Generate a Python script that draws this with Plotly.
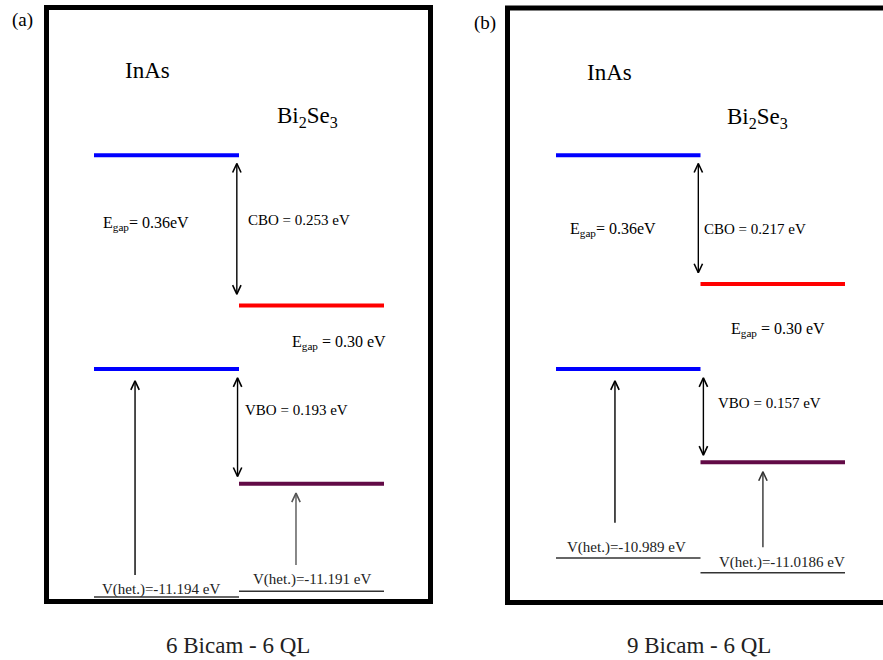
import plotly.graph_objects as go

# ---------------- data (eV, relative to InAs valence band) ----------------
panels = ["a", "b"]
captions = ["6 Bicam - 6 QL", "9 Bicam - 6 QL"]
inas_gap = [0.36, 0.36]
bise_gap = [0.30, 0.30]
cbo = [0.253, 0.217]
vbo = [0.193, 0.157]
vhet_inas = ["-11.194", "-10.989"]
vhet_bise = ["-11.191", "-11.0186"]
cbo_labels = ["CBO = 0.253 eV", "CBO = 0.217 eV"]
vbo_labels = ["VBO = 0.193 eV", "VBO = 0.157 eV"]
egap1_labels = ["E<sub>gap</sub>= 0.36eV", "E<sub>gap</sub>= 0.36eV"]
egap2_labels = ["E<sub>gap</sub> = 0.30 eV", "E<sub>gap</sub> = 0.30 eV"]

# schematic (not to scale) placement of V(het.) reference lines, eV below InAs VB
vhet_line_inas = [-0.384, -0.318]
vhet_line_bise = [-0.374, -0.343]

FONT = "Liberation Serif, Times New Roman, DejaVu Serif, serif"
BLUE, RED, PURPLE = "#0000ff", "#ff0000", "#620a46"

fig = go.Figure()

ymin, ymax = (369 - 660) / 594, 369 / 594
xranges = [[(0 - 94) / 145, (441.5 - 94) / 145], [(441.5 - 556) / 144.5, (883 - 556) / 144.5]]
HW, HH = 4.2 / 145, 9 / 594   # chevron half-width (x units) and height (eV)

annotations = []
shapes = []

txt = {
    "a": dict(inas=(0.366, 0.503), bise=(1.469, 0.424), eg1=(0.359, 0.245), cbo=(1.048, 0.251),
              eg2=(1.69, 0.045), vbo=(1.028, -0.069), vh1=(0.462, -0.372), vh2=(1.503, -0.354),
              lab=(-0.49, 0.588), upx1=0.283, upx2=1.393, up1tail=-0.347, up2tail=-0.330,
              cbx=0.985, vbx=0.99, up2color="#555555"),
    "b": dict(inas=(0.367, 0.500), bise=(1.391, 0.423), eg1=(0.394, 0.235), cbo=(1.010, 0.236),
              eg2=(1.536, 0.066), vbo=(1.107, -0.057), vh1=(0.491, -0.300), vh2=(1.564, -0.325),
              lab=(-0.491, 0.582), upx1=0.408, upx2=1.432, up1tail=-0.259, up2tail=-0.300,
              cbx=0.985, vbx=1.02, up2color="#333333"),
}

for i, p in enumerate(panels):
    xa = "x" if i == 0 else "x2"
    ya = "y" if i == 0 else "y2"
    t = txt[p]
    inas_vb = 0.0
    inas_cb = inas_vb + inas_gap[i]
    bise_cb = inas_cb - cbo[i]
    bise_vb = inas_vb - vbo[i]

    def line(xs, ys, color, width):
        fig.add_trace(go.Scatter(x=xs, y=ys, mode="lines", line=dict(color=color, width=width),
                                 xaxis=xa, yaxis=ya, showlegend=False, hoverinfo="skip"))

    def hline(x0, x1, y, color, width):
        line([x0, x1], [y, y], color, width)

    def arrow(x, y_tail, y_head, double=False, color="black"):
        line([x, x], [y_tail, y_head], color, 1.4)
        s = 1 if y_head > y_tail else -1
        line([x - HW, x, x + HW], [y_head - s * HH, y_head, y_head - s * HH], color, 1.6)
        if double:
            line([x - HW, x, x + HW], [y_tail + s * HH, y_tail, y_tail + s * HH], color, 1.6)

    hline(0, 1, inas_cb, BLUE, 4)
    hline(0, 1, inas_vb, BLUE, 4)
    hline(1, 2, bise_cb, RED, 4)
    hline(1, 2, bise_vb, PURPLE, 4)
    hline(0, 1, vhet_line_inas[i], "#333333", 1.5)
    hline(1, 2, vhet_line_bise[i], "#333333", 1.5)

    # offset arrows
    arrow(t["cbx"], inas_cb - 0.014, bise_cb + 0.019, double=True)
    arrow(t["vbx"], inas_vb - 0.015, bise_vb + 0.012, double=True)
    # V(het.) arrows
    arrow(t["upx1"], t["up1tail"], inas_vb - 0.02)
    arrow(t["upx2"], t["up2tail"], bise_vb - 0.016, color=t["up2color"])

    def txtann(pos, text, size, anchor="center", color="black"):
        return dict(xref=xa, yref=ya, x=pos[0], y=pos[1], text=text, showarrow=False,
                    xanchor=anchor, yanchor="middle", font=dict(family=FONT, size=size, color=color))

    annotations.append(txtann(t["inas"], "InAs", 23))
    annotations.append(txtann(t["bise"], "Bi<sub>2</sub>Se<sub>3</sub>", 23))
    annotations.append(txtann(t["eg1"], egap1_labels[i], 16))
    annotations.append(txtann(t["cbo"], cbo_labels[i], 15, anchor="left"))
    annotations.append(txtann(t["eg2"], egap2_labels[i], 16))
    annotations.append(txtann(t["vbo"], vbo_labels[i], 15, anchor="left"))
    annotations.append(txtann(t["vh1"], "V(het.)=" + vhet_inas[i] + " eV", 15, color="#222222"))
    annotations.append(txtann(t["vh2"], "V(het.)=" + vhet_bise[i] + " eV", 15, color="#222222"))
    annotations.append(txtann(t["lab"], "(" + p + ")", 19))
    annotations.append(txtann((0.99, -0.465), captions[i], 23, color="#222222"))

W, H = 883, 660
frames_px = [(46.5, 7.5, 430.5, 601.5), (507.5, 8.0, 895.0, 602.5)]
for (x0, y0, x1, y1) in frames_px:
    shapes.append(dict(type="rect", xref="paper", yref="paper",
                       x0=x0 / W, x1=x1 / W, y0=1 - y1 / H, y1=1 - y0 / H,
                       line=dict(color="black", width=5), fillcolor="rgba(0,0,0,0)", layer="below"))

axis_style = dict(visible=False, showgrid=False, zeroline=False, fixedrange=True)
fig.update_layout(
    width=W, height=H,
    margin=dict(l=0, r=0, t=0, b=0),
    paper_bgcolor="white", plot_bgcolor="white",
    font=dict(family=FONT),
    xaxis=dict(axis_style, domain=[0, 0.5], range=xranges[0]),
    xaxis2=dict(axis_style, domain=[0.5, 1], range=xranges[1]),
    yaxis=dict(axis_style, domain=[0, 1], range=[ymin, ymax]),
    yaxis2=dict(axis_style, domain=[0, 1], range=[ymin, ymax], anchor="x2"),
    annotations=annotations,
    shapes=shapes,
    showlegend=False,
)
fig.update_traces(cliponaxis=False)

fig.write_html("out.html")
